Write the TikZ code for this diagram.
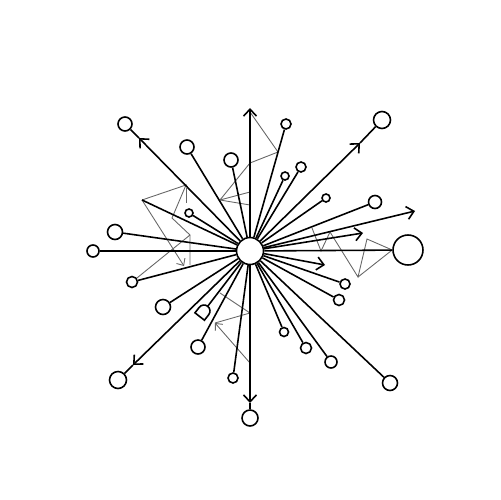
\documentclass[tikz,border=0pt]{standalone}
\usetikzlibrary{arrows.meta, arrows}
\usetikzlibrary{positioning}

\begin{document}
\begin{tikzpicture}[x=0.02cm, y=-0.02cm,
  ray/.style={line width=0.9pt},
  end-dot/.style={circle, draw, line width=0.9pt, fill=white, inner sep=0pt},
  zig/.style={draw=black!60, line width=0.5pt},
  tip/.style={-{Straight Barb[length=1.4mm, width=2.6mm]}},
  zig-tip/.style={-{Straight Barb[length=1.1mm, width=2mm]}}
]
\useasboundingbox (0,0) rectangle (500,500);

\node[end-dot, minimum size=5.4mm] (hub) at (250,251) {};

% end circles: name/x/y/diameter
\foreach \n/\x/\y/\d in {1/125/124/2.8, 2/187/147/2.8, 3/231/160/2.8, 4/286/124/2.0,
    5/382/120/3.4, 6/301/167/2.0, 7/285/176/1.6, 8/326/198/1.6, 9/375/202/2.6,
    10/408/250/6.0, 11/189/213/1.6, 12/115/232/3.0, 13/93/251/2.4, 14/132/282/2.2,
    15/163/307/3.0, 16/198/347/2.8, 17/118/380/3.4, 18/233/378/2.0, 19/250/418/3.2,
    20/345/284/2.0, 21/339/300/2.2, 22/284/332/1.8, 23/306/348/2.2, 24/331/362/2.4,
    25/390/383/3.0} {
  \node[end-dot, minimum size=\d mm] (c\n) at (\x,\y) {};
}

\coordinate (a1) at (250,108);
\coordinate (a2) at (415,211);
\coordinate (a3) at (363,233);
\coordinate (a4) at (325,265);
\coordinate (m1) at (139,138);
\coordinate (m5) at (360,143);
\coordinate (m17) at (133,365);
\coordinate (m19) at (250,403);

% gray zigzags
\coordinate (zA) at (142,200);
\coordinate (zB) at (186,185);
\coordinate (zC) at (172,218);
\coordinate (zD) at (190,235);
\coordinate (zE) at (184,266);
\coordinate (zF) at (190,265);
\coordinate (zG) at (186,188);
\coordinate (zH) at (186,203);
\draw[zig] (zA) -- (zB) -- (zC) -- (zD) -- (zF);
\draw[zig, zig-tip] (zA) -- (zE);
\draw[zig] (zD) -- (c14);
\draw[zig] (zG) -- (zH);

\coordinate (tG) at (250,112);
\coordinate (tH) at (278,152);
\coordinate (tI) at (250,163);
\coordinate (tJ) at (220,200);
\coordinate (tK) at (250,192);
\coordinate (tL) at (250,205);
\draw[zig] (tG) -- (tH) -- (tI) -- (tJ) -- (tK);
\draw[zig] (tJ) -- (tL);

\coordinate (rK) at (312,228);
\coordinate (rL) at (321,251);
\coordinate (rM) at (330,232);
\coordinate (rN) at (358,277);
\coordinate (rO) at (367,239);
\draw[zig] (rK) -- (rL) -- (rM) -- (rN) -- (rO) -- (c10.west);
\draw[zig] (rN) -- (c10.west);

\coordinate (bQ) at (220,293);
\coordinate (bR) at (250,313);
\coordinate (bS) at (215,323);
\coordinate (bT) at (250,363);
\draw[zig] (bQ) -- (bR) -- (bS);
\draw[zig, zig-tip] (bT) -- (bS);

% rays
\foreach \n in {2,3,4,6,7,8,9,10,11,12,13,14,15,16,18,20,21,22,23,24,25}
  \draw[ray] (hub) -- (c\n);
\foreach \n in {1,5,17,19} {
  \draw[ray, tip] (hub) -- (m\n);
  \draw[ray] (m\n) -- (c\n);
}
\foreach \n in {1,2,3,4}
  \draw[ray, tip] (hub) -- (a\n);
\draw[ray] (hub) -- (zA);

% tag
\begin{scope}[shift={(204,311)}, rotate=52]
  \draw[line width=0.9pt, fill=white] (-7,-6) -- (0,-6) arc[start angle=-90, end angle=90, radius=6] -- (-7,6) -- cycle;
  \coordinate (tag) at (6,0);
\end{scope}
\draw[ray] (hub) -- (tag);

\end{tikzpicture}
\end{document}
